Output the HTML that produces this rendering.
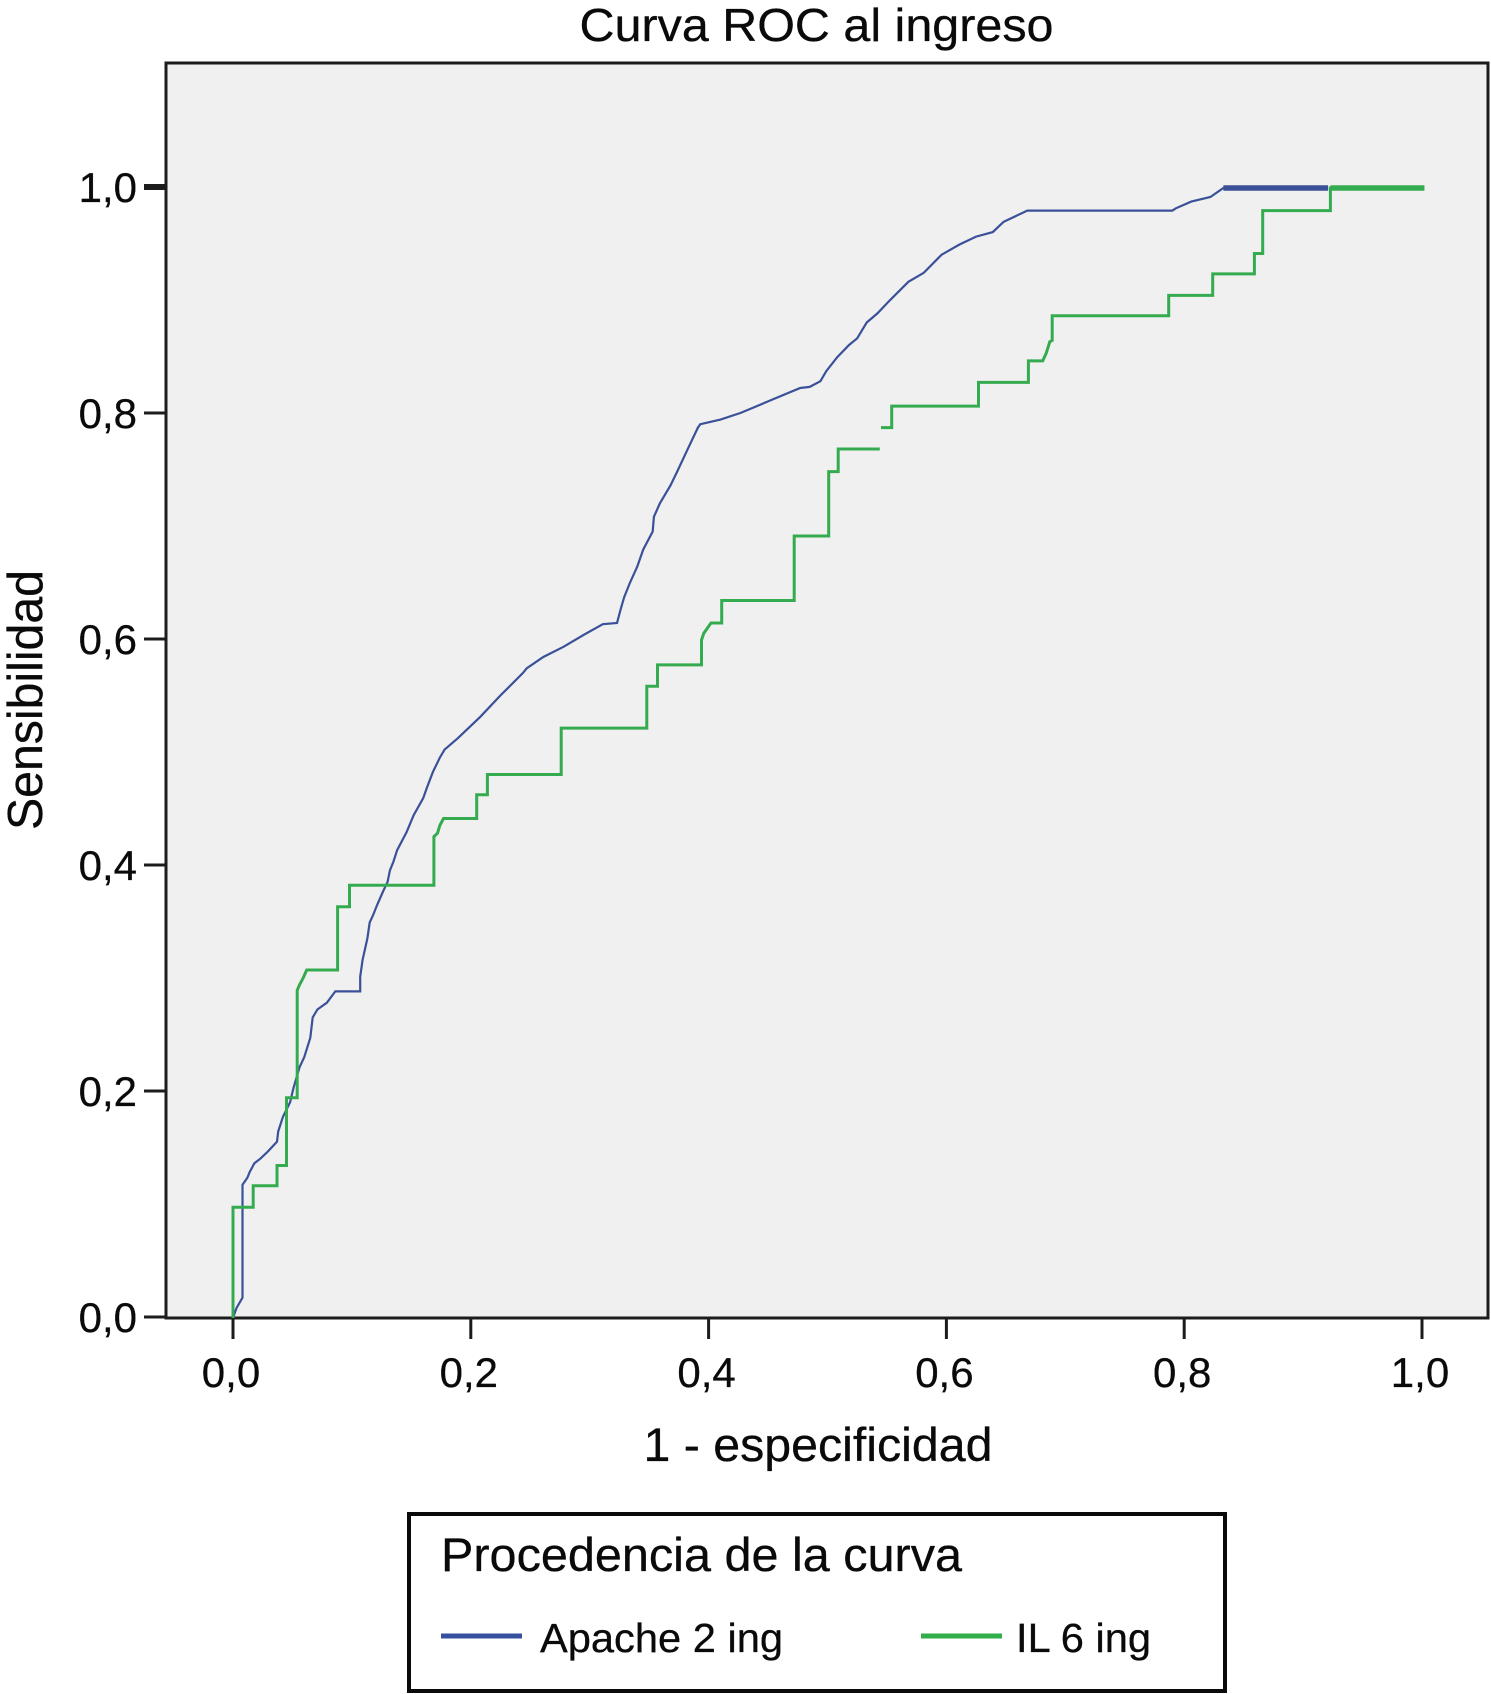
<!DOCTYPE html>
<html lang="es">
<head>
<meta charset="utf-8">
<title>Curva ROC al ingreso</title>
<style>
html,body{margin:0;padding:0;background:#fff;width:1491px;height:1694px;overflow:hidden}
svg{display:block}
text{font-family:"Liberation Sans",sans-serif;fill:#0a0a0a;stroke:#0a0a0a;stroke-width:.3px}
</style>
</head>
<body>
<svg id="chart" xmlns="http://www.w3.org/2000/svg" width="1491" height="1694" viewBox="0 0 1491 1694">
  <rect x="0" y="0" width="1491" height="1694" fill="#ffffff"/>
  <text x="816.5" y="41" font-size="46.5" text-anchor="middle" textLength="474" lengthAdjust="spacingAndGlyphs">Curva ROC al ingreso</text>
  <rect x="166" y="63" width="1322" height="1255" fill="#f0f0f0" stroke="#1c1c1c" stroke-width="3"/>
  <g id="ticks"></g>
  <g id="series"></g>
  <text x="818" y="1461" font-size="47" text-anchor="middle" textLength="349" lengthAdjust="spacingAndGlyphs">1 - especificidad</text>
  <text x="0" y="0" transform="translate(42 700) rotate(-90)" font-size="49" text-anchor="middle" textLength="260" lengthAdjust="spacingAndGlyphs">Sensibilidad</text>
  <g>
    <rect x="409" y="1514" width="816" height="177" fill="#ffffff" stroke="#0a0a0a" stroke-width="4"/>
    <text x="441" y="1571" font-size="47" textLength="521" lengthAdjust="spacingAndGlyphs">Procedencia de la curva</text>
    <line x1="441" y1="1636" x2="522" y2="1636" stroke="#34509f" stroke-width="5"/>
    <text x="540" y="1652" font-size="40.5" textLength="243" lengthAdjust="spacingAndGlyphs">Apache 2 ing</text>
    <line x1="921" y1="1636" x2="1002" y2="1636" stroke="#2fae4a" stroke-width="5"/>
    <text x="1016" y="1652" font-size="40.5" textLength="135" lengthAdjust="spacingAndGlyphs">IL 6 ing</text>
  </g>
</svg>
<script>
const xTickValues = [0, 0.2, 0.4, 0.6, 0.8, 1];
const xTickLabels = ["0,0", "0,2", "0,4", "0,6", "0,8", "1,0"];
const yTickValues = [0, 0.2, 0.4, 0.6, 0.8, 1];
const yTickLabels = ["0,0", "0,2", "0,4", "0,6", "0,8", "1,0"];

const apacheX = [0,.003,.008,.008,.012,.014,.018,.023,.029,.037,.038,.042,.048,.051,.056,.060,.065,.067,.071,.079,.086,.107,.107,.109,.113,.115,.118,.121,.126,.130,.132,.135,.138,.146,.152,.160,.163,.168,.174,.178,.189,.208,.225,.244,.247,.261,.278,.294,.311,.323,.326,.329,.334,.340,.345,.353,.354,.359,.368,.374,.382,.391,.393,.410,.427,.452,.477,.485,.494,.499,.508,.518,.525,.533,.542,.551,.568,.581,.596,.611,.625,.639,.648,.668,.790,.793,.806,.822,.833,.921];
const apacheY = [0,.009,.018,.118,.124,.129,.137,.141,.147,.156,.165,.178,.191,.204,.222,.231,.248,.266,.273,.279,.289,.289,.302,.317,.336,.350,.357,.365,.377,.386,.396,.404,.414,.430,.445,.460,.469,.483,.496,.503,.513,.532,.551,.571,.575,.585,.594,.604,.614,.615,.627,.638,.651,.665,.680,.696,.709,.721,.737,.750,.768,.788,.791,.795,.801,.812,.823,.824,.829,.838,.850,.861,.867,.881,.889,.899,.917,.925,.941,.950,.957,.961,.970,.980,.980,.982,.988,.992,1,1];

const il6LowerX = [0,0,.017,.017,.037,.037,.045,.045,.054,.054,.056,.059,.062,.088,.088,.098,.098,.169,.169,.172,.174,.177,.205,.205,.214,.214,.276,.276,.348,.348,.357,.357,.394,.394,.396,.400,.402,.411,.411,.472,.472,.501,.501,.509,.509,.544];
const il6LowerY = [0,.098,.098,.117,.117,.135,.135,.195,.195,.290,.295,.301,.308,.308,.364,.364,.383,.383,.426,.429,.436,.442,.442,.463,.463,.481,.481,.522,.522,.559,.559,.578,.578,.600,.606,.612,.615,.615,.635,.635,.692,.692,.749,.749,.769,.769];

const il6UpperX = [.545,.554,.554,.627,.627,.669,.669,.681,.684,.687,.689,.689,.787,.787,.824,.824,.859,.859,.866,.866,.923,.923,1.002];
const il6UpperY = [.788,.788,.807,.807,.828,.828,.847,.847,.854,.864,.865,.887,.887,.905,.905,.924,.924,.942,.942,.980,.980,1,1];

const SVG_NS = "http://www.w3.org/2000/svg";
const ticksGroup = document.getElementById("ticks");
const seriesGroup = document.getElementById("series");

function scaleX(v) { return 233 + v * 1189; }
function scaleY(v) { return 1318 - v * 1130; }

xTickValues.forEach(function (v, i) {
  const tick = document.createElementNS(SVG_NS, "line");
  
  
  tick.setAttribute("x1", scaleX(v));
  tick.setAttribute("x2", scaleX(v));
  tick.setAttribute("y1", 1318);
  tick.setAttribute("y2", 1339);
  tick.setAttribute("stroke", "#1c1c1c");
  tick.setAttribute("stroke-width", 3);
  ticksGroup.appendChild(tick);
  const label = document.createElementNS(SVG_NS, "text");
  
  
  label.setAttribute("x", scaleX(v) - 2);
  label.setAttribute("y", 1387);
  label.setAttribute("font-size", 42);
  label.setAttribute("text-anchor", "middle");
  label.textContent = xTickLabels[i];
  ticksGroup.appendChild(label);
});

yTickValues.forEach(function (v, i) {
  const tick = document.createElementNS(SVG_NS, "line");
  
  
  tick.setAttribute("x1", 144);
  tick.setAttribute("x2", 166);
  tick.setAttribute("y1", scaleY(v) - 1);
  tick.setAttribute("y2", scaleY(v) - 1);
  tick.setAttribute("stroke", "#1c1c1c");
  tick.setAttribute("stroke-width", v === 1 ? 6 : 3);
  ticksGroup.appendChild(tick);
  const label = document.createElementNS(SVG_NS, "text");
  
  
  label.setAttribute("x", 137);
  label.setAttribute("y", scaleY(v) + 14);
  label.setAttribute("font-size", 42);
  label.setAttribute("text-anchor", "end");
  label.textContent = yTickLabels[i];
  ticksGroup.appendChild(label);
});

function pointsFor(xs, ys, from, to) {
  const pts = [];
  for (let i = from; i < to; i++) {
    pts.push(scaleX(xs[i]).toFixed(1) + "," + scaleY(ys[i]).toFixed(1));
  }
  return pts.join(" ");
}

function drawCurve(xs, ys, color, width, thickEnd, name) {
  const line = document.createElementNS(SVG_NS, "polyline");
  
  
  line.setAttribute("points", pointsFor(xs, ys, 0, xs.length));
  line.setAttribute("fill", "none");
  line.setAttribute("stroke", color);
  line.setAttribute("stroke-width", width);
  line.setAttribute("stroke-linejoin", "miter");
  seriesGroup.appendChild(line);
  if (thickEnd) {
    const end = document.createElementNS(SVG_NS, "polyline");
    
    
    end.setAttribute("points", pointsFor(xs, ys, xs.length - 2, xs.length));
    end.setAttribute("fill", "none");
    end.setAttribute("stroke", color);
    end.setAttribute("stroke-width", 5.5);
    seriesGroup.appendChild(end);
  }
}

drawCurve(apacheX, apacheY, "#3a5199", 2.2, true, "apache-curve");
drawCurve(il6LowerX, il6LowerY, "#35ab4f", 3, false, "il6-curve-lower");
drawCurve(il6UpperX, il6UpperY, "#35ab4f", 3, true, "il6-curve-upper");
</script>
</body>
</html>
